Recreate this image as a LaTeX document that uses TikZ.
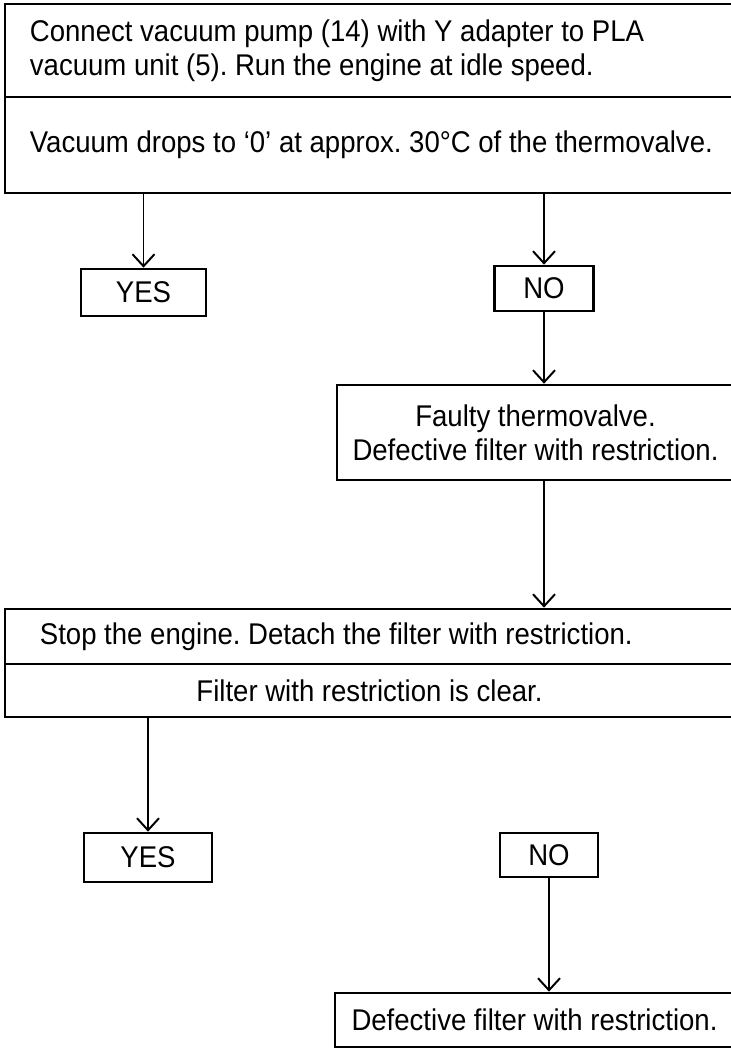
\documentclass[tikz,border=0pt]{standalone}
\usepackage{fontspec}
\setmainfont[FakeStretch=0.92]{Liberation Sans}
\usetikzlibrary{arrows.meta, positioning}

\begin{document}
\begin{tikzpicture}[
    x=0.025cm, y=-0.025cm,
    box/.style={draw, line width=1.9pt, inner sep=0pt, align=center, font=\fontsize{21.3}{24.2}\selectfont\frenchspacing},
    wide/.style={box, minimum width=18.875cm, align=flush left, inner xsep=#1},
    answer/.style={box, minimum height=1.15cm},
    arrow/.style={-{Straight Barb[length=0.3cm, width=0.55cm]}, line width=1.4pt},
]
\useasboundingbox (0,0) rectangle (731,1048);

% first check
\node[wide=0.625cm, text width=17.625cm, minimum height=2.325cm] (conn) at (382.5,50.5)
    {Connect vacuum pump (14) with Y adapter to PLA\\vacuum unit (5). Run the engine at idle speed.};
\node[wide=0.625cm, text width=17.625cm, minimum height=2.4cm] (drop) at (382.5,145)
    {Vacuum drops to `0' at approx. 30°C of the thermovalve.};

\node[answer, minimum width=3.125cm, minimum height=1.175cm] (yes1) at (143.5,292.5) {YES};
\node[answer, minimum width=2.475cm, minimum height=1.125cm] (no1) at (544,288.5) {NO};

\node[box, minimum width=9.925cm, minimum height=2.375cm] (faulty) at (535.5,432.5)
    {Faulty thermovalve.\\Defective filter with restriction.};

\draw[arrow] (drop.south -| yes1.north) -- (yes1.north);
\draw[arrow] (drop.south -| no1.north) -- (no1.north);
\draw[arrow] (no1.south) -- (faulty.north -| no1.south);

% second check
\node[wide=0.875cm, text width=17.125cm, minimum height=1.375cm] (stop) at (382.5,636.5)
    {Stop the engine. Detach the filter with restriction.};
\node[box, minimum width=18.225cm, minimum height=1.325cm] (clear) at (369.5,690.5)
    {Filter with restriction is clear.};

\draw[arrow] (faulty.south -| no1.south) -- (stop.north -| no1.south);

\node[answer, minimum width=3.2cm, minimum height=1.225cm] (yes2) at (148,857.5) {YES};
\node[answer, minimum width=2.45cm, minimum height=1.1cm] (no2) at (549,855) {NO};

\node[box, minimum width=9.975cm, minimum height=1.35cm] (defect) at (534.5,1020)
    {Defective filter with restriction.};

\draw[arrow] (clear.south -| yes2.north) -- (yes2.north);
\draw[arrow] (no2.south) -- (defect.north -| no2.south);

\end{tikzpicture}
\end{document}
